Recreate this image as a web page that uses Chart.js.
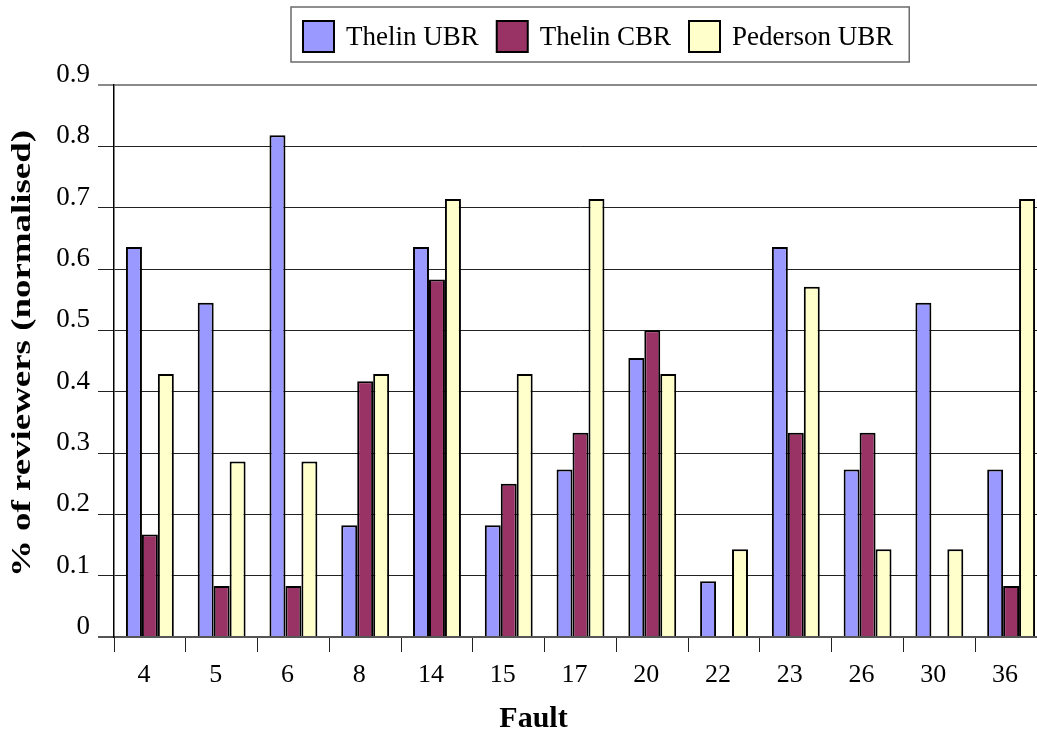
<!DOCTYPE html>
<html lang="en">
<head>
  <meta charset="UTF-8" />
  <title>Fault detection by reviewers</title>
  <script src="https://cdn.jsdelivr.net/npm/chart.js"></script>
  <style>
    html, body {
      margin: 0;
      padding: 0;
      background: #fff;
      width: 1037px;
      height: 732px;
      overflow: hidden;
    }
    /* plot runs a little past the right edge, like the original image */
    #chart-container {
      position: absolute;
      left: 0;
      top: 0;
      width: 1049px;
      height: 732px;
    }
  </style>
</head>
<body>

  <div id="chart-container">
    <canvas id="chart"></canvas>
  </div>

  <script>
    const faults = ['4', '5', '6', '8', '14', '15', '17', '20', '22', '23', '26', '30', '36'];
    const thelinUBR   = [0.636, 0.545, 0.818, 0.182, 0.636, 0.182, 0.273, 0.455, 0.091, 0.636, 0.273, 0.545, 0.273];
    const thelinCBR   = [0.167, 0.083, 0.083, 0.417, 0.583, 0.25, 0.333, 0.5, 0, 0.333, 0.333, 0, 0.083];
    const pedersonUBR = [0.429, 0.286, 0.286, 0.429, 0.714, 0.429, 0.714, 0.429, 0.143, 0.571, 0.143, 0.143, 0.714];
    const yTickLabels = ['0', '0.1', '0.2', '0.3', '0.4', '0.5', '0.6', '0.7', '0.8', '0.9'];
    const xTitle = 'Fault';
    const yTitle = '% of reviewers (normalised)';

    const serif = '"Liberation Serif", "Times New Roman", serif';

    // boxed legend and the two axis titles, drawn by hand
    const extras = {
      id: 'extras',
      afterDraw(chart) {
        const ctx = chart.ctx;
        ctx.save();

        // legend
        ctx.font = '27px ' + serif;
        ctx.textBaseline = 'alphabetic';
        ctx.textAlign = 'left';
        let x = 303;
        const box = 31, top = 21;
        chart.data.datasets.forEach((ds, i) => {
          if (i > 0) x += 18;
          ctx.fillStyle = ds.backgroundColor;
          ctx.fillRect(x, top, box, box);
          ctx.lineWidth = 2;
          ctx.strokeStyle = '#000';
          ctx.strokeRect(x, top, box, box);
          x += box + 12;
          ctx.fillStyle = '#000';
          ctx.fillText(ds.label, x, 45);
          x += ctx.measureText(ds.label).width;
        });
        ctx.lineWidth = 1.5;
        ctx.strokeStyle = '#6a6a6a';
        ctx.strokeRect(291, 7, x + 16 - 291, 55);

        // x title
        ctx.font = 'bold 30px ' + serif;
        ctx.textAlign = 'center';
        ctx.fillText(xTitle, 533.5, 727);

        // y title, stretched along its length as in the original
        ctx.translate(22.5, 353.5);
        ctx.rotate(-Math.PI / 2);
        ctx.font = 'bold 28px ' + serif;
        ctx.textBaseline = 'middle';
        const w = ctx.measureText(yTitle).width;
        ctx.scale(447 / w, 1);
        ctx.fillText(yTitle, 0, 0);

        ctx.restore();
      }
    };

    const ctx = document.getElementById('chart').getContext('2d');
    new Chart(ctx, {
      type: 'bar',
      data: {
        labels: faults,
        datasets: [
          { label: 'Thelin UBR', data: thelinUBR, backgroundColor: '#9999FF' },
          { label: 'Thelin CBR', data: thelinCBR, backgroundColor: '#993366' },
          { label: 'Pederson UBR', data: pedersonUBR, backgroundColor: '#FFFFCC' }
        ]
      },
      options: {
        responsive: true,
        maintainAspectRatio: false,
        animation: false,
        layout: { padding: { top: 85, left: 0, right: 2, bottom: 0 } },
        datasets: {
          bar: {
            borderColor: '#000',
            borderWidth: 2,
            categoryPercentage: 0.667,
            barPercentage: 1
          }
        },
        plugins: {
          legend: { display: false },
          tooltip: { enabled: false }
        },
        scales: {
          x: {
            afterFit: s => { s.height = 95; },
            grid: {
              display: true,
              drawOnChartArea: false,
              drawTicks: true,
              tickLength: 15,
              color: '#222',
              lineWidth: 1
            },
            border: { display: true, color: '#555', width: 2 },
            ticks: {
              color: '#000',
              font: { family: serif, size: 26 },
              padding: 8,
              labelOffset: -6,
              maxRotation: 0,
              autoSkip: false
            }
          },
          y: {
            min: 0,
            max: 0.9,
            afterFit: s => { s.width = 114; },
            grid: {
              color: c => c.index === 9 ? '#8a8a8a' : (c.index === 0 ? '#555' : '#222'),
              lineWidth: c => (c.index === 9 || c.index === 0) ? 2 : 1,
              tickLength: 16
            },
            border: { display: true, color: '#000', width: 1.5 },
            ticks: {
              stepSize: 0.1,
              color: '#000',
              font: { family: serif, size: 27 },
              padding: 8,
              labelOffset: -10,
              callback: (v, i) => yTickLabels[i]
            }
          }
        }
      },
      plugins: [extras]
    });
  </script>

</body>
</html>
